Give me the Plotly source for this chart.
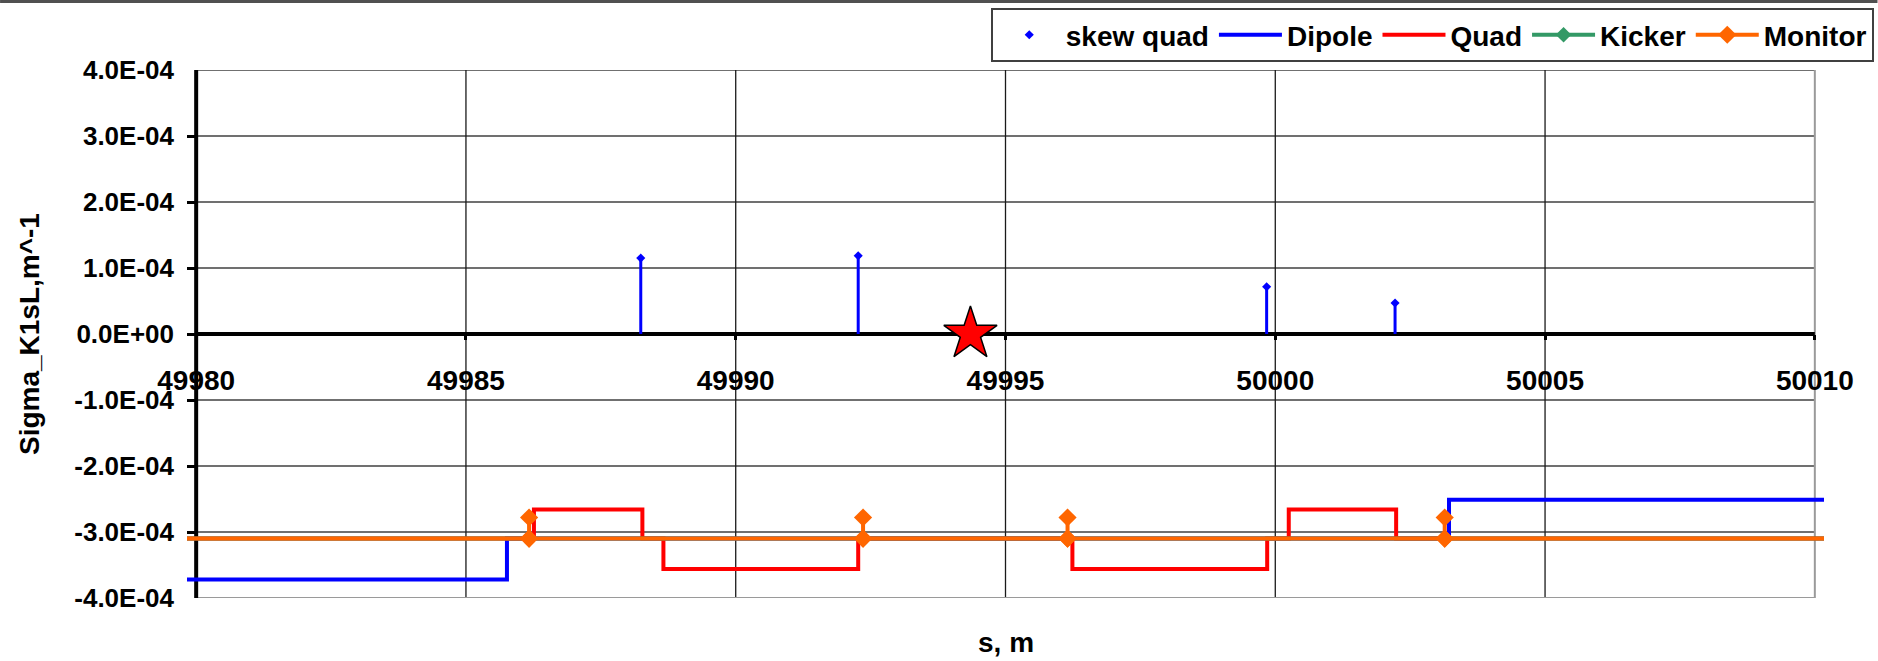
import plotly.graph_objects as go

# ---------------- data ----------------
x_ticks = [49980, 49985, 49990, 49995, 50000, 50005, 50010]
y_ticks = [4e-4, 3e-4, 2e-4, 1e-4, 0.0, -1e-4, -2e-4, -3e-4, -4e-4]
y_ticktext = ["4.0E-04", "3.0E-04", "2.0E-04", "1.0E-04", "0.0E+00",
              "-1.0E-04", "-2.0E-04", "-3.0E-04", "-4.0E-04"]

# skew quads: position [m] and integrated strength
skew_s = [49988.24, 49992.27, 49999.84, 50002.22]
skew_k = [1.15e-4, 1.185e-4, 0.716e-4, 0.47e-4]

# element indicator lines (step lines)
dip_s = [49979.83, 49985.76, 50003.22, 50010.17]
dip_v = [-3.72e-4, -3.10e-4, -2.51e-4, -2.51e-4]

quad_s = [49979.83, 49986.26, 49988.27, 49988.66, 49992.27,
          49996.24, 49999.85, 50000.25, 50002.24, 50010.17]
quad_v = [-3.10e-4, -2.66e-4, -3.10e-4, -3.56e-4, -3.10e-4,
          -3.56e-4, -3.10e-4, -2.66e-4, -3.10e-4, -3.10e-4]

kick_s = [49979.83, 50010.17]
kick_v = [-3.10e-4, -3.10e-4]

mon_pos = [49986.17, 49992.36, 49996.15, 50003.14]
mon_base = -3.10e-4
mon_top = -2.78e-4
line_start, line_end = 49979.83, 50010.17

star_s = [49994.35]
star_v = [0.0]

# ---------------- figure ----------------
W, H = 1878, 661
L, R, T, B = 187, 53.5, 70, 62.5
PW, PH = W - L - R, H - T - B
FONT = "Liberation Sans, Arial, sans-serif"

mon_x, mon_y = [line_start], [mon_base]
for m in mon_pos:
    mon_x += [m, m, m]
    mon_y += [mon_base, mon_top, mon_base]
mon_x.append(line_end)
mon_y.append(mon_base)
mon_sel = list(range(1, len(mon_x) - 1))

fig = go.Figure()
fig.add_trace(go.Scatter(
    x=skew_s, y=skew_k, mode="markers", name="skew quad",
    marker=dict(symbol="diamond", size=7, color="#0000ff"),
    error_y=dict(type="data", symmetric=False, array=[0] * len(skew_k),
                 arrayminus=skew_k, thickness=3, width=0, color="#0000ff"),
))
fig.add_trace(go.Scatter(
    x=dip_s, y=dip_v, mode="lines", name="Dipole", line_shape="hv",
    line=dict(color="#0000ff", width=4),
))
fig.add_trace(go.Scatter(
    x=quad_s, y=quad_v, mode="lines", name="Quad", line_shape="hv",
    line=dict(color="#ff0000", width=4),
))
fig.add_trace(go.Scatter(
    x=kick_s, y=kick_v, mode="lines+markers", name="Kicker",
    line=dict(color="#339966", width=4),
    marker=dict(symbol="diamond", size=12, color="#339966"),
    selectedpoints=[], unselected=dict(marker=dict(opacity=0)),
))
fig.add_trace(go.Scatter(
    x=mon_x, y=mon_y, mode="lines+markers", name="Monitor",
    line=dict(color="#ff6600", width=4),
    marker=dict(symbol="diamond", size=14, color="#ff6600"),
    selectedpoints=mon_sel, unselected=dict(marker=dict(opacity=0)),
))
fig.add_trace(go.Scatter(
    x=star_s, y=star_v, mode="markers", showlegend=False, cliponaxis=False,
    marker=dict(symbol="star", size=40, color="#ff0000",
                line=dict(color="black", width=1.5)),
))

shapes = []
x0, x1 = x_ticks[0], x_ticks[-1]
y0, y1 = y_ticks[-1], y_ticks[0]
for yv in y_ticks:
    if yv in (0.0, y0):
        continue
    shapes.append(dict(type="line", xref="x", yref="y", x0=x0, x1=x1, y0=yv, y1=yv,
                       line=dict(color="#404040", width=1.5), layer="below"))
for xv in x_ticks[1:-1]:
    shapes.append(dict(type="line", xref="x", yref="y", x0=xv, x1=xv, y0=y0, y1=y1,
                       line=dict(color="#1a1a1a", width=1.3), layer="below"))
# frame: right and bottom borders (gray)
shapes.append(dict(type="line", xref="x", yref="y", x0=x1, x1=x1, y0=y0, y1=y1,
                   line=dict(color="#9a9a9a", width=2), layer="below"))
shapes.append(dict(type="line", xref="x", yref="y", x0=x0, x1=x1, y0=y0, y1=y0,
                   line=dict(color="#9a9a9a", width=2), layer="below"))
# axes lines (thick black)
shapes.append(dict(type="line", xref="x", yref="y", x0=x0, x1=x0, y0=y0, y1=y1,
                   line=dict(color="black", width=4), layer="below"))
shapes.append(dict(type="line", xref="x", yref="y", x0=x0, x1=x1, y0=0, y1=0,
                   line=dict(color="black", width=4), layer="below"))
# chart-area top border
shapes.append(dict(type="line", xref="paper", yref="paper",
                   x0=-L / PW, x1=1 + R / PW, y0=1 + (T - 1.5) / PH, y1=1 + (T - 1.5) / PH,
                   line=dict(color="#505050", width=3)))

fig.update_layout(
    width=W, height=H,
    margin=dict(l=L, r=R, t=T, b=B, autoexpand=False),
    paper_bgcolor="white", plot_bgcolor="white",
    font=dict(family=FONT, color="black", size=28, weight="bold"),
    showlegend=True,
    legend=dict(orientation="h", x=(991 - L) / PW, xanchor="left",
                y=1 + (T - 8) / PH, yanchor="top",
                bordercolor="#404040", borderwidth=2, bgcolor="white",
                font=dict(family=FONT, size=28, weight="bold", color="black"),
                itemwidth=63, tracegroupgap=0),
    xaxis=dict(range=[line_start, line_end], anchor="free", position=0.5,
               tickvals=x_ticks, ticktext=[str(v) for v in x_ticks],
               ticks="outside", ticklen=5, tickwidth=3, tickcolor="black",
               showgrid=False, zeroline=False, showline=False,
               tickfont=dict(family=FONT, size=28, weight="bold"),
               ticklabelstandoff=16),
    yaxis=dict(range=[y0, y1], domain=[0, 1],
               tickvals=y_ticks, ticktext=y_ticktext,
               ticks="inside", ticklen=9, tickwidth=3, tickcolor="black",
               showgrid=False, zeroline=False, showline=False,
               tickfont=dict(family=FONT, size=26, weight="bold"),
               ticklabelstandoff=12),
    shapes=shapes,
    annotations=[
        dict(text="s, m", xref="paper", yref="paper", x=0.5, y=-(643.5 - 598.5) / PH,
             xanchor="center", yanchor="middle", showarrow=False,
             font=dict(family=FONT, size=28, weight="bold")),
        dict(text="Sigma_K1sL,m^-1", xref="paper", yref="paper",
             x=(29 - L) / PW, y=0.5, xanchor="center", yanchor="middle",
             textangle=-90, showarrow=False,
             font=dict(family=FONT, size=28, weight="bold")),
    ],
)

fig.write_html("out.html")
